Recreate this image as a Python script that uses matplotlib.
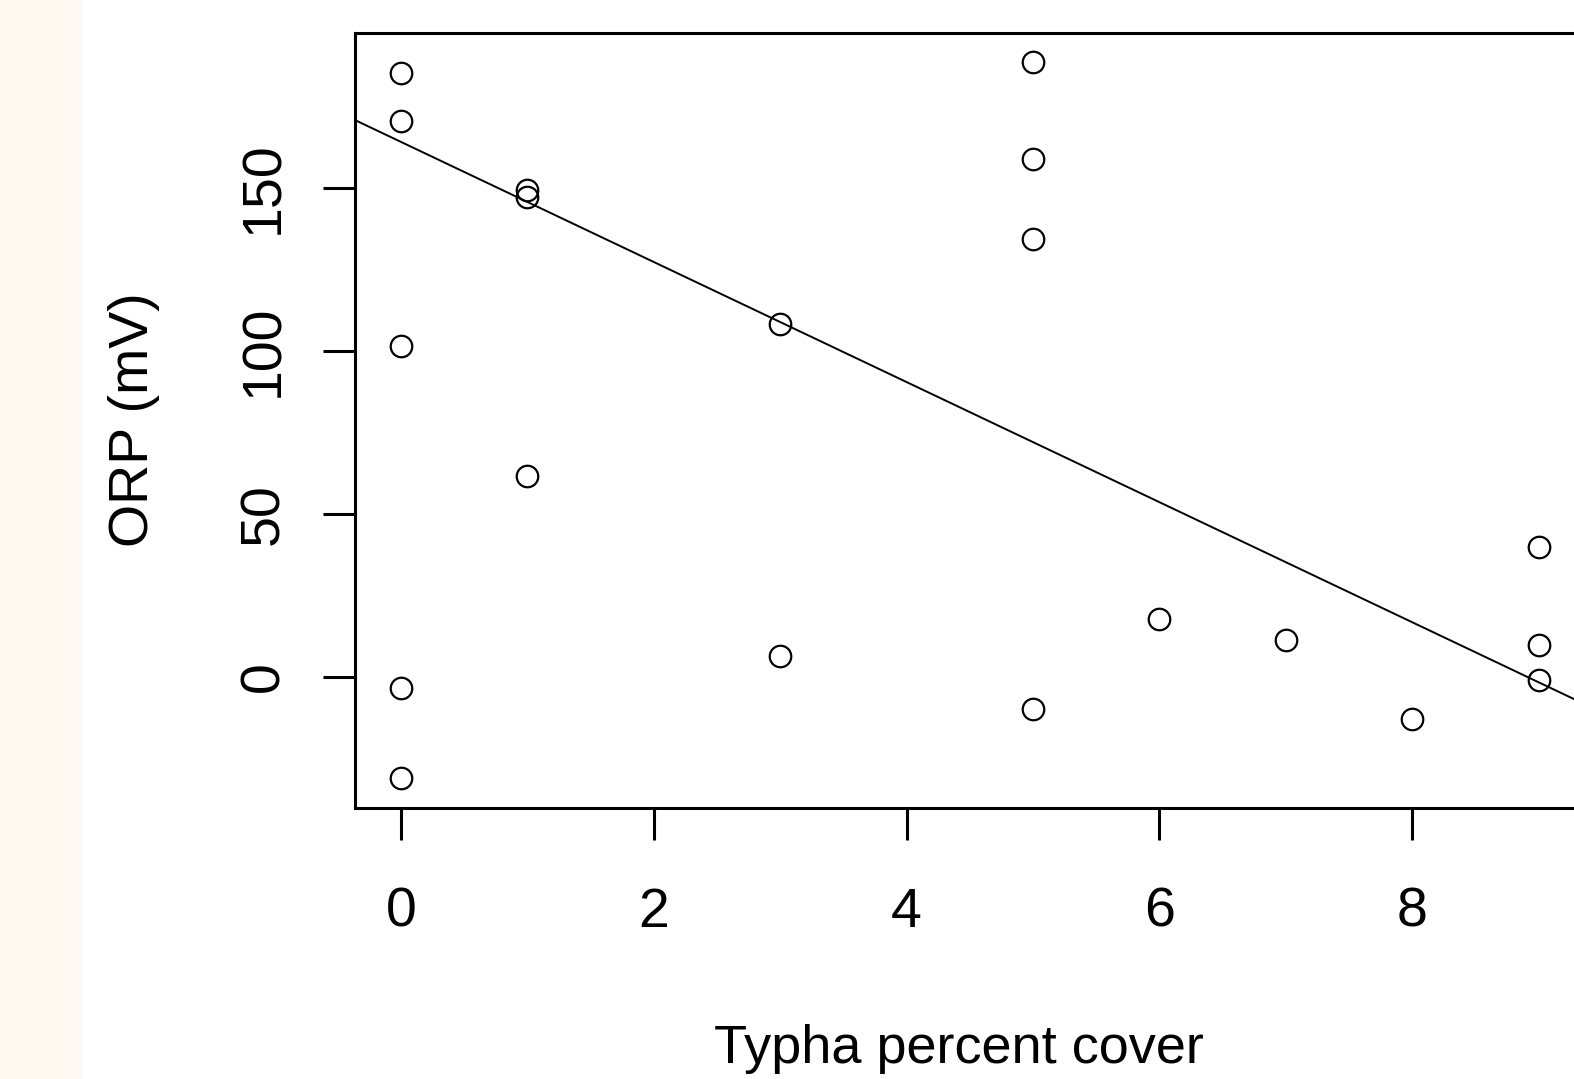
import matplotlib
matplotlib.use('Agg')
import matplotlib.pyplot as plt
from matplotlib.patches import Rectangle

# Data
typha_cover = [0, 0, 0, 0, 0, 1, 1, 1, 3, 3, 5, 5, 5, 5, 6, 7, 8, 9, 9, 9]
orp_mv = [185.2, 170.3, 101.6, -3.4, -31.1, 149.2, 147.0, 61.7, 108.3, 6.4,
          188.5, 158.7, 134.1, -9.8, 17.8, 11.4, -12.8, 39.7, 9.7, -1.0]

# Fitted line (abline) as drawn in the reference
fit_intercept = 164.0
fit_slope = -18.4

x_ticks = [0, 2, 4, 6, 8]
y_ticks = [0, 50, 100, 150]


def main():
    plt.rcParams['font.family'] = ['Liberation Sans', 'DejaVu Sans']

    W, H = 1574, 1079
    fig = plt.figure(figsize=(W / 100, H / 100), dpi=100)
    fig.patch.set_facecolor('white')

    # cream strip on the left edge
    fig.patches.append(Rectangle((0, 0), 82 / W, 1, transform=fig.transFigure,
                                 facecolor='#fff8f0', edgecolor='none', zorder=0))

    # plot region in pixels: left 355, right 1584 (off canvas), top 33, bottom 807.5
    left, right, top, bottom = 355.3, 1584.0, 33.3, 807.5
    ax = fig.add_axes([left / W, (H - bottom) / H, (right - left) / W, (bottom - top) / H])

    ax.plot(typha_cover, orp_mv, linestyle='none', marker='o', markersize=15.5,
            markerfacecolor='none', markeredgecolor='black', markeredgewidth=1.6)
    ax.axline((0, fit_intercept), slope=fit_slope, color='black', linewidth=1.4)

    ax.set_xlim(-0.362, 9.36)
    ax.set_ylim(-40.0, 197.3)

    ax.set_xticks(x_ticks)
    ax.set_yticks(y_ticks)
    ax.tick_params(axis='both', length=23, width=2.2, labelsize=40, direction='out')
    ax.tick_params(axis='x', pad=34)
    ax.tick_params(axis='y', pad=24)
    for lab in ax.get_yticklabels():
        lab.set_rotation(90)
        lab.set_va('center')

    for side in ['left', 'bottom', 'top', 'right']:
        ax.spines[side].set_linewidth(2.2)

    fig.text(959 / W, 1 - 1063 / H, 'Typha percent cover', ha='center', va='baseline',
             fontsize=39)
    fig.text(148 / W, 1 - 420 / H, 'ORP (mV)', rotation=90, rotation_mode='anchor',
             ha='center', va='baseline', fontsize=40)

    fig.savefig('out.png', dpi=100)


if __name__ == '__main__':
    main()
